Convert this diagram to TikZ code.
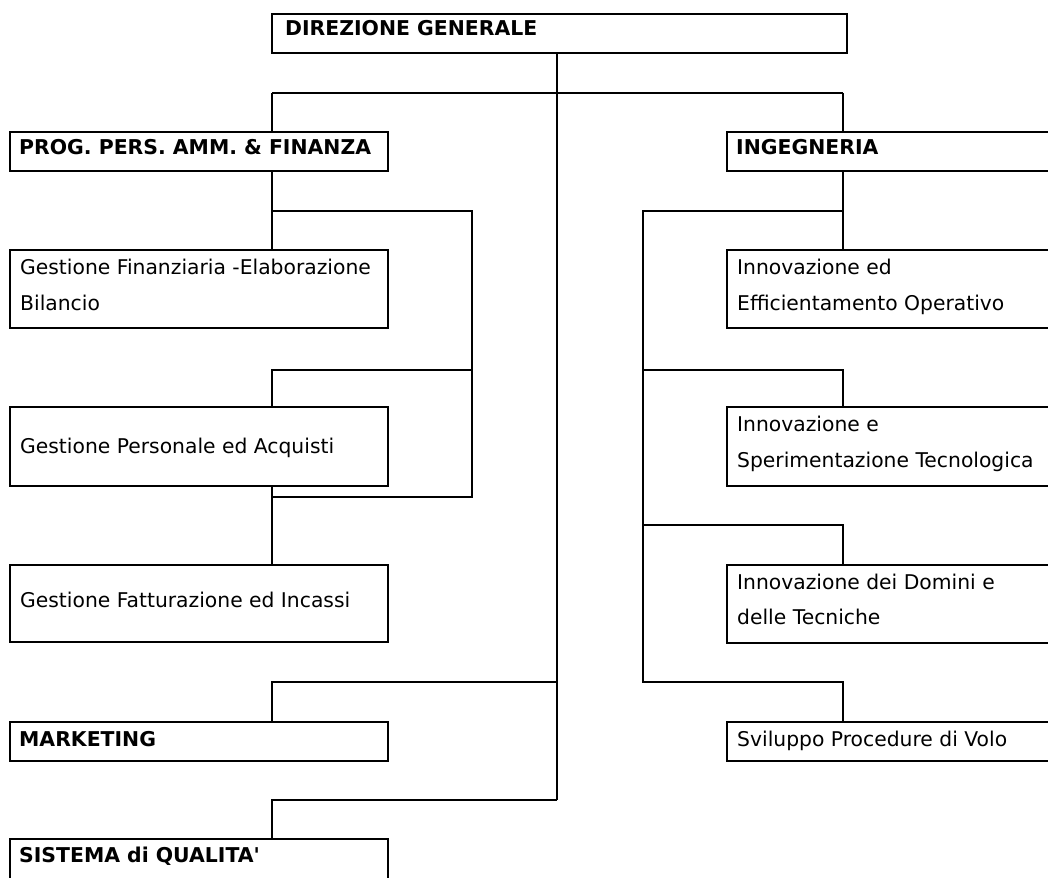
\documentclass[tikz,border=0pt]{standalone}
\usepackage{fontspec}
\setmainfont{DejaVu Sans}
\begin{document}
\begin{tikzpicture}[x=1pt,y=-1pt,
  box/.style={draw=black,line width=1.8pt,rectangle,inner sep=0pt,outer sep=0pt,anchor=north west},
  conn/.style={draw=black,line width=1.2pt},
  bt/.style={anchor=base west,inner sep=0pt,font=\fontsize{20.4}{22}\selectfont\bfseries},
  rt/.style={anchor=base west,inner sep=0pt,font=\fontsize{20.3}{22}\selectfont}]
\useasboundingbox (0,0) rectangle (1048,877);
\clip (0,0) rectangle (1048,877);
% boxes
\node[box,minimum width=575pt,minimum height=39pt] (dg) at (272,14) {};
\node[box,minimum width=378pt,minimum height=39pt] (prog) at (10,132) {};
\node[box,minimum width=340pt,minimum height=39pt] (ing) at (727,132) {};
\node[box,minimum width=378pt,minimum height=78pt] (gf) at (10,250) {};
\node[box,minimum width=340pt,minimum height=78pt] (ie) at (727,250) {};
\node[box,minimum width=378pt,minimum height=79pt] (gp) at (10,407) {};
\node[box,minimum width=340pt,minimum height=79pt] (is) at (727,407) {};
\node[box,minimum width=378pt,minimum height=77pt] (gfa) at (10,565) {};
\node[box,minimum width=340pt,minimum height=78pt] (id) at (727,565) {};
\node[box,minimum width=378pt,minimum height=39pt] (mk) at (10,722) {};
\node[box,minimum width=340pt,minimum height=39pt] (sv) at (727,722) {};
\node[box,minimum width=378pt,minimum height=50pt] (sq) at (10,839) {};
% texts
\node[bt] (tdg) at (285,36) {DIREZIONE GENERALE};
\node[bt] (tprog) at (19,155) {PROG. PERS. AMM. \& FINANZA};
\node[bt] (ting) at (736,155) {INGEGNERIA};
\node[rt] (tgf1) at (20,274) {Gestione Finanziaria -Elaborazione};
\node[rt] (tgf2) at (20,310) {Bilancio};
\node[rt] (tie1) at (737,274) {Innovazione ed};
\node[rt] (tie2) at (737,310) {Efficientamento Operativo};
\node[rt] (tgp) at (20,453) {Gestione Personale ed Acquisti};
\node[rt] (tis1) at (737,431) {Innovazione e};
\node[rt] (tis2) at (737,467) {Sperimentazione Tecnologica};
\node[rt] (tgfa) at (20,607) {Gestione Fatturazione ed Incassi};
\node[rt] (tid1) at (737,589) {Innovazione dei Domini e};
\node[rt] (tid2) at (737,624) {delle Tecniche};
\node[bt] (tmk) at (19,746) {MARKETING};
\node[rt] (tsv) at (737,746) {Sviluppo Procedure di Volo};
\node[bt] (tsq) at (19,862) {SISTEMA di QUALITA\textquotesingle};
% junction coordinates
\coordinate (a) at (557,93);
\coordinate (bL) at (272,93);
\coordinate (bR) at (843,93);
\coordinate (m) at (557,682);
\coordinate (s) at (557,800);
\coordinate (p1) at (272,211);
\coordinate (p2) at (272,370);
\coordinate (p2r) at (472,370);
\coordinate (p3) at (272,497);
\coordinate (p3r) at (472,497);
\coordinate (r1) at (843,211);
\coordinate (r2) at (643,370);
\coordinate (r3) at (643,525);
\coordinate (r4) at (643,682);
\coordinate (r4r) at (843,682);
% connectors
\draw[conn] (dg.south -| a) -- (s);
\draw[conn] (bL) -- (bR);
\draw[conn] (bL) -- (prog.north -| bL);
\draw[conn] (bR) -- (ing.north -| bR);
\draw[conn] (m) -| (mk.north -| bL);
\draw[conn] (s) -| (sq.north -| bL);
% left subtree
\draw[conn] (prog.south -| bL) -- (gf.north -| bL);
\draw[conn] (p1) -| (p3r) -- (p3);
\draw[conn] (p2r) -- (p2) -- (gp.north -| p2);
\draw[conn] (gp.south -| p3) -- (gfa.north -| p3);
% right subtree
\draw[conn] (ing.south -| bR) -- (ie.north -| bR);
\draw[conn] (r1) -| (r4) -- (r4r) -- (sv.north -| r4r);
\draw[conn] (r2) -| (is.north -| bR);
\draw[conn] (r3) -| (id.north -| bR);
\end{tikzpicture}
\end{document}
